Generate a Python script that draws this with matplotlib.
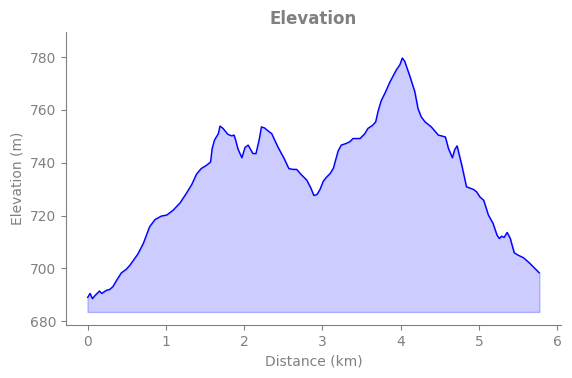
import numpy as np
import matplotlib
matplotlib.use('Agg')
import matplotlib.pyplot as plt

# Distance along the track (km) and elevation (m)
distance = [0.00, 0.03, 0.06, 0.09, 0.15, 0.18, 0.24, 0.28, 0.32, 0.37, 0.43, 0.49,
            0.54, 0.64, 0.71, 0.79, 0.86, 0.94, 1.01, 1.09, 1.18, 1.26, 1.33, 1.39,
            1.45, 1.52, 1.57, 1.59, 1.62, 1.67, 1.69, 1.73, 1.79, 1.84, 1.87, 1.89,
            1.92, 1.97, 2.01, 2.05, 2.11, 2.15, 2.19, 2.22, 2.26, 2.32, 2.35, 2.43,
            2.51, 2.57, 2.62, 2.67, 2.72, 2.80, 2.85, 2.89, 2.93, 2.97, 3.01, 3.05,
            3.10, 3.14, 3.20, 3.24, 3.30, 3.35, 3.39, 3.44, 3.48, 3.54, 3.58, 3.64,
            3.68, 3.71, 3.75, 3.80, 3.86, 3.94, 3.99, 4.02, 4.05, 4.12, 4.18, 4.22, 4.26,
            4.31, 4.39, 4.48, 4.57, 4.61, 4.66, 4.69, 4.72, 4.78, 4.84, 4.93, 4.97,
            5.01, 5.06, 5.12, 5.18, 5.23, 5.26, 5.29, 5.32, 5.36, 5.40, 5.45, 5.50,
            5.57, 5.65, 5.77]
elevation = [689.0, 690.5, 688.5, 689.6, 691.4, 690.5, 691.7, 692.0, 693.0, 695.5, 698.3, 699.6,
             701.2, 705.4, 709.4, 715.7, 718.5, 719.8, 720.2, 722.0, 724.8, 728.4, 731.8, 735.7,
             737.8, 739.1, 740.3, 745.4, 748.6, 751.1, 753.9, 753.0, 750.8, 750.2, 750.5, 748.6,
             745.2, 741.9, 745.8, 746.7, 743.5, 743.5, 748.6, 753.6, 753.2, 751.7, 751.1, 746.0,
             741.6, 737.8, 737.5, 737.5, 735.8, 733.4, 730.5, 727.6, 728.0, 730.0, 733.0, 734.5,
             736.0, 738.0, 744.5, 746.7, 747.3, 748.0, 749.2, 749.2, 749.2, 751.0, 753.0, 754.2,
             755.5, 759.5, 763.5, 766.5, 770.5, 775.0, 777.2, 779.7, 778.5, 772.5, 766.9, 760.6, 757.5,
             755.5, 753.6, 750.5, 749.8, 745.4, 741.9, 745.0, 746.4, 739.1, 730.9, 729.9, 729.0,
             727.1, 725.8, 720.2, 717.0, 712.6, 711.3, 712.2, 711.7, 713.6, 711.3, 705.9, 705.0,
             704.0, 701.9, 698.3]
base = 683.5

grey = '#808080'

fig, ax = plt.subplots(figsize=(5.72, 3.78), dpi=100)
ax.fill_between(distance, elevation, base, color='#ccccff', edgecolor='#aaaaff', linewidth=1)
ax.plot(distance, elevation, color='blue', linewidth=1)

ax.set_title('Elevation', color=grey, fontweight='bold', fontsize=12)
ax.set_xlabel('Distance (km)', color=grey)
ax.set_ylabel('Elevation (m)', color=grey)
ax.set_xlim(-0.28, 6.05)
ax.set_ylim(678.5, 789.5)
ax.set_yticks([680, 700, 720, 740, 760, 780])

for s in ['top', 'right']:
    ax.spines[s].set_visible(False)
for s in ['left', 'bottom']:
    ax.spines[s].set_color(grey)
ax.tick_params(colors=grey)

plt.subplots_adjust(left=0.115, right=0.981, top=0.915, bottom=0.14)
plt.savefig('out.png')
